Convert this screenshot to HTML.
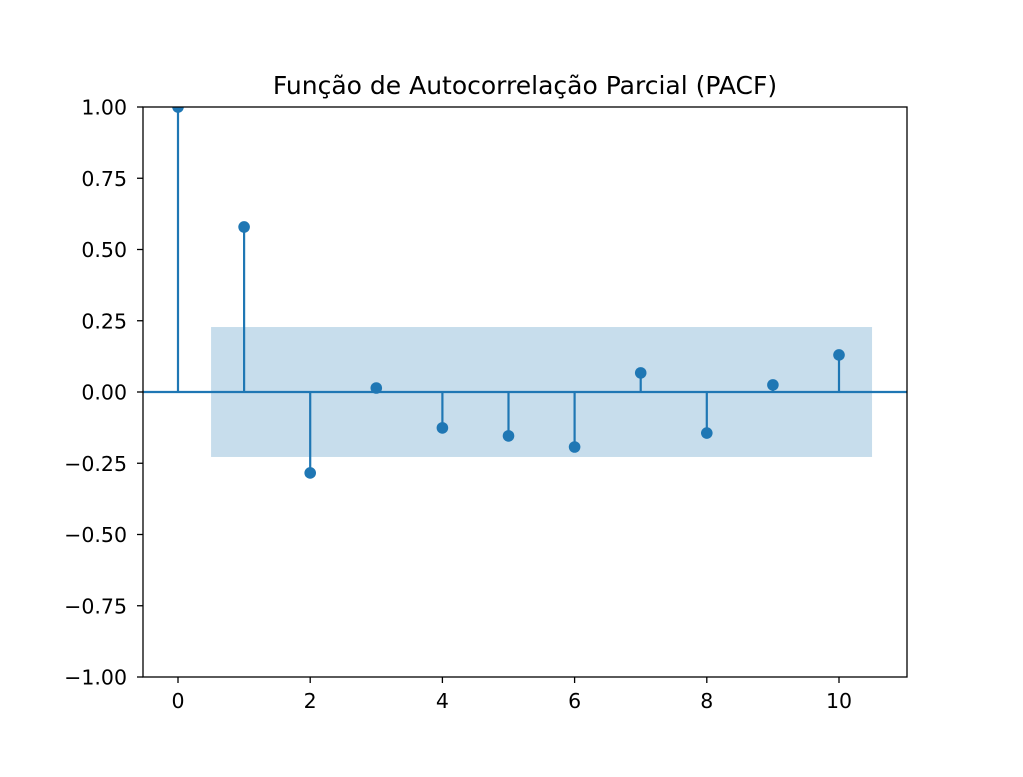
<!DOCTYPE html>
<html><head><meta charset="utf-8"><style>
body{margin:0;background:#fff;}
svg{display:block;font-family:"DejaVu Sans","Liberation Sans",sans-serif;}
</style></head><body>
<svg id="chart" width="1023" height="777">
<defs><clipPath id="clip"><rect x="143" y="107" width="764" height="570"/></clipPath></defs>
<rect width="1023" height="777" fill="#fff"/>
<text x="525" y="94" font-size="25" text-anchor="middle" fill="#000">Função de Autocorrelação Parcial (PACF)</text>
<g id="plot"></g>
</svg>
<script>
const lags=[0,1,2,3,4,5,6,7,8,9,10];
const pacfValues=[1.0,0.579,-0.284,0.014,-0.126,-0.154,-0.193,0.067,-0.144,0.025,0.13];
const confBound=0.228;
const xTicks=[0,2,4,6,8,10];
const yTicks=[1.00,0.75,0.50,0.25,0.00,-0.25,-0.50,-0.75,-1.00];
const L=143,R=907,T=107,B=677;
const xs=v=>178+(v-0)*66.1;
const ys=v=>392-v*285;
const g=document.getElementById('plot');
const NS='http://www.w3.org/2000/svg';
function mk(tag,attrs,parent){const e=document.createElementNS(NS,tag);for(const k in attrs)e.setAttribute(k,attrs[k]);(parent||g).appendChild(e);return e;}
const cg=mk('g',{'clip-path':'url(#clip)'});
let band=mk('rect',{x:xs(0.5),y:ys(confBound),width:xs(10.5)-xs(0.5),height:ys(-confBound)-ys(confBound),fill:'#1f77b4','fill-opacity':0.25},cg);


let zl=mk('line',{x1:L,x2:R,y1:ys(0),y2:ys(0),stroke:'#1f77b4','stroke-width':2.2},cg);


lags.forEach((l,i)=>{
  let s=mk('line',{x1:xs(l),x2:xs(l),y1:ys(0),y2:ys(pacfValues[i]),stroke:'#1f77b4','stroke-width':2.2},cg);
  
  
  let c=mk('circle',{cx:xs(l),cy:ys(pacfValues[i]),r:5.8,fill:'#1f77b4'},cg);
  
  
});
let fr=mk('rect',{x:L,y:T,width:R-L,height:B-T,fill:'none',stroke:'#000','stroke-width':1.3});


xTicks.forEach(v=>{
  mk('line',{x1:xs(v),x2:xs(v),y1:B,y2:B+6,stroke:'#000','stroke-width':1.3});
  let t=mk('text',{x:xs(v),y:B+31,'font-size':20.5,'text-anchor':'middle',fill:'#000'});
  t.textContent=v;
  
  
});
yTicks.forEach(v=>{
  mk('line',{x1:L-6,x2:L,y1:ys(v),y2:ys(v),stroke:'#000','stroke-width':1.3});
  let t=mk('text',{x:L-16,y:ys(v)+7.5,'font-size':20.5,'text-anchor':'end',fill:'#000'});
  t.textContent=(v<0?'\u2212':'')+Math.abs(v).toFixed(2);
  
  
});
</script>
</body></html>
